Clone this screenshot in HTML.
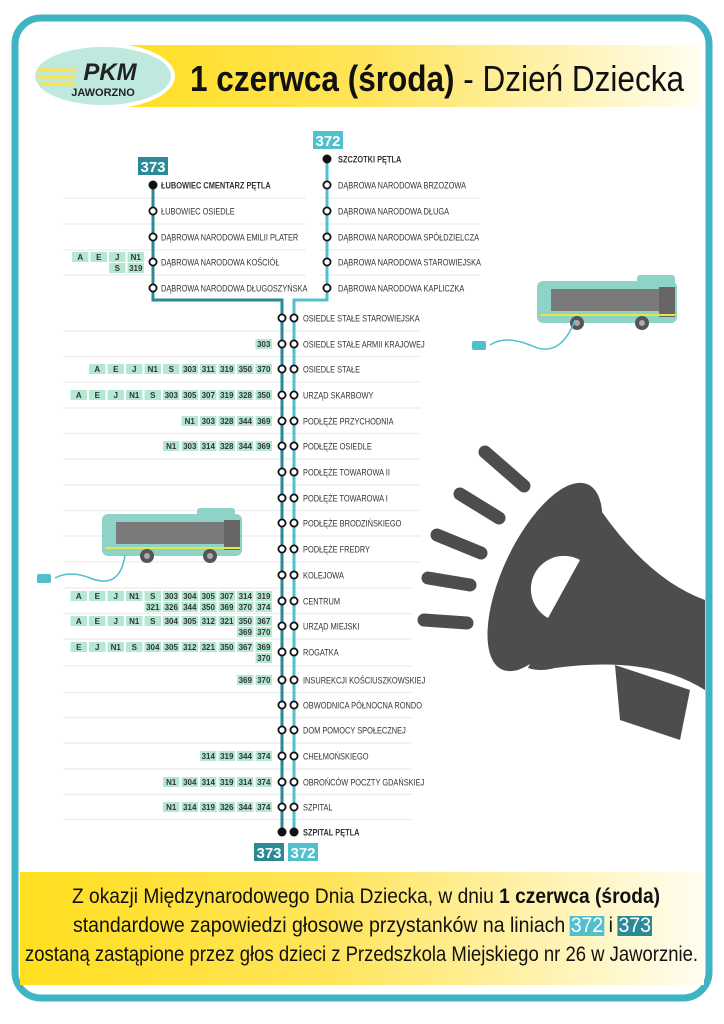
<!DOCTYPE html>
<html><head><meta charset="utf-8">
<style>
html,body{margin:0;padding:0;background:#fff;width:724px;height:1024px;overflow:hidden}
svg{display:block;font-family:"Liberation Sans",sans-serif}
.st{font-size:9.5px;fill:#333}
.tg{font-size:8px;font-weight:bold;fill:#333}
</style></head><body>
<svg id="s" width="724" height="1024" viewBox="0 0 724 1024">
<defs>
<linearGradient id="yg" x1="0" x2="1"><stop offset="0" stop-color="#ffdf1e"/><stop offset="0.45" stop-color="#ffe45a"/><stop offset="1" stop-color="#fffdf0"/></linearGradient>
</defs>
<rect x="15" y="18" width="694" height="980" rx="26" fill="#fff" stroke="#3fb5c4" stroke-width="7"/>
<rect x="100" y="45" width="600" height="62" fill="url(#yg)"/>
<ellipse cx="103" cy="76" rx="72" ry="33" fill="#fff"/>
<ellipse cx="103" cy="76" rx="68" ry="29" fill="#bfe9df"/>
<g stroke="#ffe24a" stroke-width="3"><line x1="38" y1="70" x2="75" y2="70"/><line x1="38" y1="77" x2="75" y2="77"/><line x1="40" y1="84" x2="75" y2="84"/></g>
<text x="110" y="80" font-size="24" font-weight="bold" font-style="italic" text-anchor="middle" fill="#222">PKM</text>
<text x="103" y="96" font-size="11" font-weight="bold" text-anchor="middle" fill="#222">JAWORZNO</text>
<text class="cmp" data-w="494" x="190" y="91" font-size="36" fill="#111"><tspan font-weight="bold">1 czerwca (środa)</tspan> - Dzień Dziecka</text>
<rect x="20" y="872" width="684" height="113" fill="url(#yg)"/>
<g font-size="21" fill="#111">
<text class="cmp" data-w="588" x="72" y="903">Z okazji Międzynarodowego Dnia Dziecka, w dniu <tspan font-weight="bold">1 czerwca (środa)</tspan></text>
<text class="cmp" data-w="578" x="73" y="932">standardowe zapowiedzi głosowe przystanków na liniach <tspan fill="#fff">372</tspan> i <tspan fill="#fff">373</tspan></text>
<text class="cmp" data-w="673" x="25" y="961">zostaną zastąpione przez głos dzieci z Przedszkola Miejskiego nr 26 w Jaworznie.</text>
</g>
<g id="sep" stroke="#ececec" stroke-width="1.2"></g>
<!-- megaphone -->
<g fill="#4d4d4d">
<g stroke="#4d4d4d" stroke-width="13" stroke-linecap="round">
<line x1="485" y1="452" x2="524" y2="486"/><line x1="460" y1="494" x2="499" y2="518"/>
<line x1="437" y1="535" x2="481" y2="553"/><line x1="428" y1="578" x2="470" y2="585"/><line x1="424" y1="620" x2="467" y2="623"/>
</g>
<path d="M602 512 Q650 580 705 600 L705 690 Q650 655 555 668 Q540 672 528 668 Z"/>
<path d="M615 665 L690 690 L680 740 L620 720 Z"/>
<ellipse cx="545" cy="577" rx="42" ry="102" transform="rotate(25 545 577)"/>
<path d="M580 560 A24 24 0 1 0 548 618 Z" fill="#fff"/>
</g>
<!-- buses -->
<g transform="translate(537,275)">
<rect x="0" y="6" width="140" height="42" rx="6" fill="#8fd3c8"/>
<rect x="100" y="0" width="38" height="10" rx="3" fill="#8fd3c8"/>
<rect x="14" y="14" width="108" height="22" fill="#7a7a7a"/>
<rect x="122" y="12" width="16" height="30" fill="#666"/>
<line x1="3" y1="40" x2="138" y2="40" stroke="#e6e64a" stroke-width="2"/>
<circle cx="40" cy="48" r="7" fill="#555"/><circle cx="105" cy="48" r="7" fill="#555"/>
<circle cx="40" cy="48" r="3" fill="#aaa"/><circle cx="105" cy="48" r="3" fill="#aaa"/>
</g>
<path d="M575 320 Q560 360 530 345 Q505 335 490 345" fill="none" stroke="#4fbfcb" stroke-width="1.5"/>
<rect x="472" y="341" width="14" height="9" rx="2" fill="#4fbfcb"/>
<g transform="translate(102,508)">
<rect x="0" y="6" width="140" height="42" rx="6" fill="#8fd3c8"/>
<rect x="95" y="0" width="38" height="10" rx="3" fill="#8fd3c8"/>
<rect x="14" y="14" width="108" height="22" fill="#7a7a7a"/>
<rect x="122" y="12" width="16" height="30" fill="#666"/>
<line x1="3" y1="40" x2="138" y2="40" stroke="#e6e64a" stroke-width="2"/>
<circle cx="45" cy="48" r="7" fill="#555"/><circle cx="108" cy="48" r="7" fill="#555"/>
<circle cx="45" cy="48" r="3" fill="#aaa"/><circle cx="108" cy="48" r="3" fill="#aaa"/>
</g>
<path d="M125 555 Q120 590 90 578 Q70 570 55 578" fill="none" stroke="#4fbfcb" stroke-width="1.5"/>
<rect x="37" y="574" width="14" height="9" rx="2" fill="#4fbfcb"/>
<!-- lines -->
<path d="M153 185 V300 H282 V832" fill="none" stroke="#2a8a96" stroke-width="3"/>
<path d="M327 159 V300 H294 V832" fill="none" stroke="#4fc0cc" stroke-width="3"/>
<g id="dyn"></g>
<rect x="138" y="157" width="30" height="18" fill="#2a8a96"/><text x="153" y="172" font-size="15" font-weight="bold" fill="#fff" text-anchor="middle">373</text>
<rect x="313" y="131" width="30" height="18" fill="#4fc0cc"/><text x="328" y="146" font-size="15" font-weight="bold" fill="#fff" text-anchor="middle">372</text>
<rect x="254" y="843" width="30" height="18" fill="#2a8a96"/><text x="269" y="858" font-size="15" font-weight="bold" fill="#fff" text-anchor="middle">373</text>
<rect x="288" y="843" width="30" height="18" fill="#4fc0cc"/><text x="303" y="858" font-size="15" font-weight="bold" fill="#fff" text-anchor="middle">372</text>
</svg>
<script>
var NS="http://www.w3.org/2000/svg",d=document.getElementById("dyn"),sp=document.getElementById("sep");
function el(t,a,txt,p){var e=document.createElementNS(NS,t);for(var k in a)e.setAttribute(k,a[k]);if(txt!=null)e.textContent=txt;(p||d).appendChild(e);return e;}
function circ(x,y,f){el("circle",{cx:x,cy:y,r:3.6,fill:f?"#111":"#fff",stroke:"#111","stroke-width":1.8});}
function lab(x,y,n,b){var t=el("text",{x:x,y:y+3.5,"class":"st","font-weight":b?"bold":"normal",fill:b?"#111":"#333"},n);var w=t.getComputedTextLength();t.setAttribute("textLength",w*0.78);t.setAttribute("lengthAdjust","spacingAndGlyphs");}
function tags(y,arr,R){var x=R||272;for(var i=arr.length-1;i>=0;i--){var w=16.5;el("rect",{x:x-w,y:y-5,width:w,height:10,fill:"#b5e8d3"});var t=el("text",{x:x-w/2,y:y+3,"text-anchor":"middle","class":"tg"},arr[i]);var tw=t.getComputedTextLength();if(tw>14){t.setAttribute("textLength",14);t.setAttribute("lengthAdjust","spacingAndGlyphs");}x-=18.5;}}
var b3=["ŁUBOWIEC CMENTARZ PĘTLA","ŁUBOWIEC OSIEDLE","DĄBROWA NARODOWA EMILII PLATER","DĄBROWA NARODOWA KOŚCIÓŁ","DĄBROWA NARODOWA DŁUGOSZYŃSKA"];
var yb=[185,211,237,262,288];
b3.forEach(function(n,i){circ(153,yb[i],i==0);lab(161,yb[i],n,i==0);});
var b2=["SZCZOTKI PĘTLA","DĄBROWA NARODOWA BRZOZOWA","DĄBROWA NARODOWA DŁUGA","DĄBROWA NARODOWA SPÓŁDZIELCZA","DĄBROWA NARODOWA STAROWIEJSKA","DĄBROWA NARODOWA KAPLICZKA"];
var y2=[159,185,211,237,262,288];
b2.forEach(function(n,i){circ(327,y2[i],i==0);lab(338,y2[i],n,i==0);});
tags(257,["A","E","J","N1"],144);tags(268,["S","319"],144);
[198,224,250,275].forEach(function(y){el("line",{x1:63,y1:y,x2:306,y2:y},null,sp);el("line",{x1:320,y1:y,x2:480,y2:y},null,sp);});
var M=[["OSIEDLE STAŁE STAROWIEJSKA"],["OSIEDLE STAŁE ARMII KRAJOWEJ",["303"]],["OSIEDLE STAŁE",["A","E","J","N1","S","303","311","319","350","370"]],
["URZĄD SKARBOWY",["A","E","J","N1","S","303","305","307","319","328","350"]],["PODŁĘŻE PRZYCHODNIA",["N1","303","328","344","369"]],
["PODŁĘŻE OSIEDLE",["N1","303","314","328","344","369"]],["PODŁĘŻE TOWAROWA II"],["PODŁĘŻE TOWAROWA I"],["PODŁĘŻE BRODZIŃSKIEGO"],["PODŁĘŻE FREDRY"],["KOLEJOWA"],
["CENTRUM",["A","E","J","N1","S","303","304","305","307","314","319"],["321","326","344","350","369","370","374"]],
["URZĄD MIEJSKI",["A","E","J","N1","S","304","305","312","321","350","367"],["369","370"]],
["ROGATKA",["E","J","N1","S","304","305","312","321","350","367","369"],["370"]],
["INSUREKCJI KOŚCIUSZKOWSKIEJ",["369","370"]],["OBWODNICA PÓŁNOCNA RONDO"],["DOM POMOCY SPOŁECZNEJ"],["CHEŁMOŃSKIEGO",["314","319","344","374"]],
["OBROŃCÓW POCZTY GDAŃSKIEJ",["N1","304","314","319","314","374"]],["SZPITAL",["N1","314","319","326","344","374"]],["SZPITAL PĘTLA"]];
var ys=[318,344,369,395,421,446,472,498,523,549,575,601,626,652,680,705,730,756,782,807,832];
M.forEach(function(r,i){var y=ys[i],last=i==M.length-1;
 if(i>0){var sy=(ys[i-1]+y)/2;el("line",{x1:63,y1:sy,x2:i<11?420:412,y2:sy},null,sp);}
 circ(282,y,last);circ(294,y,last);
 lab(303,y,r[0],last);
 if(r[2]){tags(y-5,r[1]);tags(y+6,r[2]);}else if(r[1])tags(y,r[1]);});
document.querySelectorAll("text.cmp").forEach(function(t){t.setAttribute("textLength",t.getAttribute("data-w"));t.setAttribute("lengthAdjust","spacingAndGlyphs");});
var t=document.querySelectorAll("tspan[fill='#fff']");
t.forEach(function(s,i){var b=s.getBBox();var r=el("rect",{x:b.x-1,y:b.y+2,width:b.width+2,height:b.height-3,fill:i==0?"#4fc0cc":"#2a8a96"});s.parentNode.parentNode.insertBefore(r,s.parentNode);});
</script>
</body></html>
